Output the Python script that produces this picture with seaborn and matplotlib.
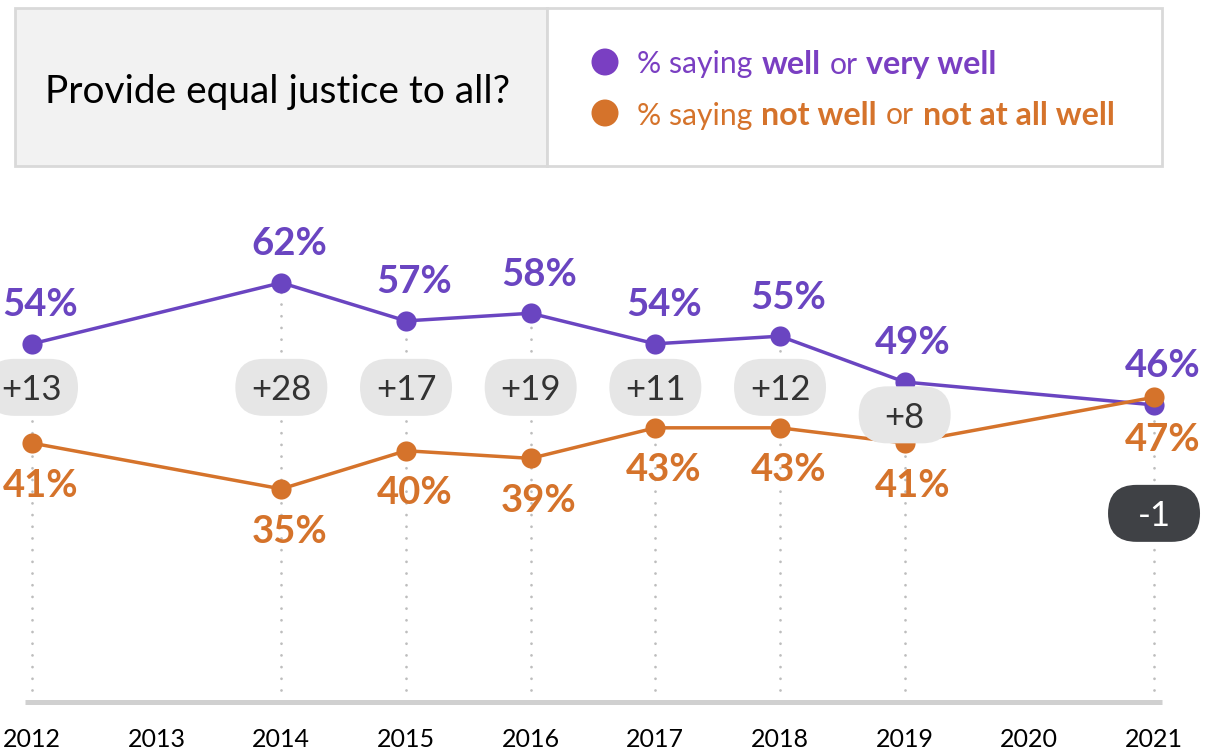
import numpy as np
import pandas as pd
import matplotlib
matplotlib.use("Agg")
import matplotlib.pyplot as plt
import matplotlib.transforms as mtransforms
from matplotlib.patches import FancyBboxPatch, Rectangle, Circle
import seaborn as sns

# ---------------- data ----------------
years = [2012, 2014, 2015, 2016, 2017, 2018, 2019, 2021]
well = [54, 62, 57, 58, 54, 55, 49, 46]
not_well = [41, 35, 40, 39, 43, 43, 41, 47]
gap_labels = ["+13", "+28", "+17", "+19", "+11", "+12", "+8", "-1"]
tick_years = list(range(2012, 2022))
title = "Provide equal justice to all?"
legend_well = [("% saying", "normal"), ("well", "bold"), ("or", "normal"), ("very well", "bold")]
legend_not = [("% saying", "normal"), ("not well", "bold"), ("or", "normal"), ("not at all well", "bold")]

# ---------------- style ----------------
PURPLE = "#6a45c1"
ORANGE = "#d5732b"
LEG_PURPLE = "#7a3fc2"
GRID = "#bdbdbd"
PILL_LIGHT = "#e6e6e6"
PILL_DARK = "#3f4145"

sns.set_theme(style="white")
plt.rcParams["font.family"] = ["Lato", "DejaVu Sans"]

W, H = 1219, 752
fig = plt.figure(figsize=(W / 100, H / 100), dpi=100)
fig.patch.set_facecolor("white")


def fx(px):
    return px / W


def fy(py):
    return 1 - py / H


# axes: baseline at y=702px, top at 190px; 2012 at x=32px, 124.67 px/year
ax = fig.add_axes([0, fy(702), 1, (702 - 190) / H])
ax.set_facecolor("none")
px_per_year = 124.67
x0 = 2012 - 32 / px_per_year
ax.set_xlim(x0, x0 + W / px_per_year)
ymin, ymax = 7.1, 74.14
ax.set_ylim(ymin, ymax)
px_per_unit = 512 / (ymax - ymin)

df = pd.DataFrame({
    "year": years * 2,
    "value": well + not_well,
    "series": ["well"] * len(years) + ["not"] * len(years),
})

# dotted guide lines
tops = [max(a, b) for a, b in zip(well, not_well)]
ax.vlines(years, ymin + 12 / px_per_unit, tops, colors=GRID, linewidth=2.0,
          linestyles=[(0, (0.01, 4.2))], capstyle="round", zorder=1)

sns.lineplot(data=df, x="year", y="value", hue="series", hue_order=["well", "not"],
             palette={"well": PURPLE, "not": ORANGE}, marker="o", markersize=14.5,
             markeredgewidth=0, linewidth=2.5, legend=False, ax=ax, zorder=3)

# baseline
ax.plot([x0 + 25 / px_per_year, x0 + 1162 / px_per_year], [ymin, ymin], color="#d0d0d0",
        lw=3.6, solid_capstyle="butt", clip_on=False, zorder=2)

# value labels
for x, v in zip(years, well):
    ax.annotate(f"{v}%", (x, v), xytext=(6, 30), textcoords="offset points",
                ha="center", va="center_baseline", fontsize=27.5, fontweight="bold",
                color=PURPLE, zorder=6)
for x, v in zip(years, not_well):
    ax.annotate(f"{v}%", (x, v), xytext=(6, -28.5), textcoords="offset points",
                ha="center", va="center_baseline", fontsize=27.5, fontweight="bold",
                color=ORANGE, zorder=6)

# gap pills
pill_y = [48.3, 48.3, 48.3, 48.3, 48.3, 48.3, 44.7, 31.8]
pill_style = ["light"] * 7 + ["dark"]
pw, ph = 92, 57
for x, y, lab, st in zip(years, pill_y, gap_labels, pill_style):
    tr = mtransforms.IdentityTransform() + mtransforms.ScaledTranslation(x, y, ax.transData)
    fc = PILL_LIGHT if st == "light" else PILL_DARK
    tc = "#333333" if st == "light" else "white"
    p = FancyBboxPatch((-pw / 2, -ph / 2), pw, ph,
                       boxstyle=f"round,pad=0,rounding_size={ph / 2}",
                       transform=tr, fc=fc, ec="none", zorder=5)
    ax.add_patch(p)
    ax.text(x, y, lab, ha="center", va="center_baseline", fontsize=25,
            color=tc, zorder=7)

# axis ticks
ax.set_xticks(tick_years)
ax.set_xticklabels([str(t) for t in tick_years])
ax.tick_params(axis="x", length=0, pad=19, labelsize=18, labelcolor="black")
ax.set_yticks([])
ax.set_xlabel("")
ax.set_ylabel("")
for s in ax.spines.values():
    s.set_visible(False)

# header boxes
fig.add_artist(Rectangle((fx(15), fy(166)), fx(532), 158 / H, transform=fig.transFigure,
                         fc="#f2f2f2", ec="#d9d9d9", lw=2))
fig.add_artist(Rectangle((fx(547), fy(166)), fx(615), 158 / H, transform=fig.transFigure,
                         fc="white", ec="#d9d9d9", lw=2))
fig.text(fx(278), fy(88), title, ha="center", va="center_baseline", fontsize=28,
         color="black")

# legend
renderer = fig.canvas.get_renderer()


def legend_row(ypx, pieces, color, size=21.7, bold_size=23.2, gap=9):
    fig.add_artist(Circle((605, H - ypx), 13.5, transform=mtransforms.IdentityTransform(),
                          fc=color, ec="none"))
    xpx = 637
    for txt, wgt in pieces:
        t = fig.text(fx(xpx), fy(ypx), txt, ha="left", va="center_baseline",
                     fontsize=bold_size if wgt == "bold" else size,
                     fontweight=wgt, color=color)
        bb = t.get_window_extent(renderer)
        xpx = bb.x1 + gap


legend_row(62, legend_well, LEG_PURPLE)
legend_row(113, legend_not, ORANGE)

fig.savefig("out.png", dpi=100)
